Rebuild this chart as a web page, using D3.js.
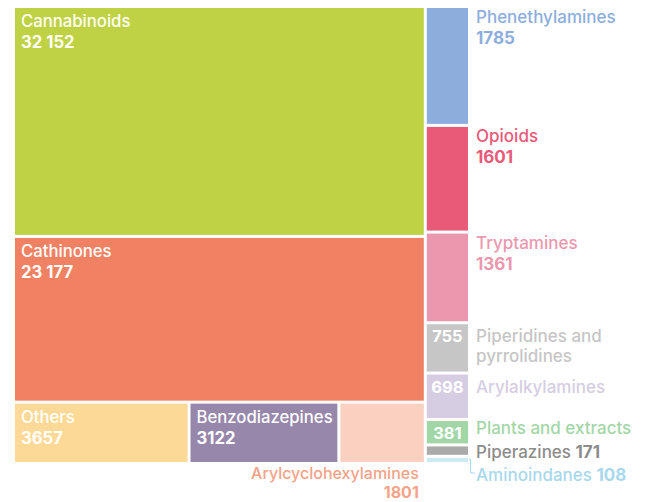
<!DOCTYPE html>
<html>
<head>
  <meta charset="utf-8">
  <title>New psychoactive substances treemap</title>
  <script src="https://cdn.jsdelivr.net/npm/d3@7"></script>
  <style>
    html, body { margin: 0; padding: 0; background: #fff; }
    svg { display: block; font-family: Inter, "Noto Sans", sans-serif; }
  </style>
</head>
<body>
  <svg id="chart" width="647" height="502"></svg>
  <script>
    // big blocks on the left, top to bottom
    const mainCategories = ['Cannabinoids', 'Cathinones']
    const mainValues = [32152, 23177]
    // bottom row under Cathinones, left to right
    const rowCategories = ['Others', 'Benzodiazepines', 'Arylcyclohexylamines']
    const rowValues = [3657, 3122, 1801]
    // narrow column on the right, top to bottom
    const sideCategories = ['Phenethylamines', 'Opioids', 'Tryptamines', 'Piperidines and pyrrolidines',
      'Arylalkylamines', 'Plants and extracts', 'Piperazines', 'Aminoindanes']
    const sideValues = [1785, 1601, 1361, 755, 698, 381, 171, 108]

    const allCategories = [...mainCategories, ...rowCategories, ...sideCategories]
    const fillColor = d3.scaleOrdinal(allCategories, [
      '#bfd244', '#f08263',
      '#fcd996', '#9787ab', '#fad0c0',
      '#8daedc', '#e95a78', '#eb98ae', '#c6c6c6', '#d6cde3', '#a3d6a6', '#aaaaaa', '#cde9f4'
    ])
    const textColor = d3.scaleOrdinal(allCategories, [
      '#fff', '#fff',
      '#fff', '#fff', '#f5a287',
      '#8daedc', '#e95a78', '#eb98ae', '#c6c6c6', '#d6cde3', '#a3d6a6', '#8c8c8c', '#a8d8ec'
    ])

    const fmt = v => v >= 10000 ? d3.format(',')(v).replace(',', ' ') : String(v)

    const leaf = (name, value) => ({ name, value })
    const data = {
      name: 'root',
      children: [
        {
          name: 'main',
          children: [
            ...mainCategories.map((c, i) => leaf(c, mainValues[i])),
            { name: 'row', children: rowCategories.map((c, i) => leaf(c, rowValues[i])) }
          ]
        },
        { name: 'side', children: sideCategories.map((c, i) => leaf(c, sideValues[i])) }
      ]
    }

    const margin = { left: 15, top: 8 }
    const width = 453
    const height = 454

    const root = d3.hierarchy(data).sum(d => d.value || 0)
    d3.treemap()
      .tile(d3.treemapSliceDice)
      .size([width, height])
      .paddingInner(3)(root)

    const svg = d3.select('#chart')
    const g = svg.append('g').attr('transform', `translate(${margin.left},${margin.top})`)

    const leaves = root.leaves()

    g.selectAll('rect')
      .data(leaves)
      .join('rect')
      .attr('x', d => d.x0)
      .attr('y', d => d.y0)
      .attr('width', d => d.x1 - d.x0)
      .attr('height', d => d.y1 - d.y0)
      .attr('fill', d => fillColor(d.data.name))

    const inside = new Set(['Cannabinoids', 'Cathinones', 'Others', 'Benzodiazepines'])
    const stacked = new Set(['Phenethylamines', 'Opioids', 'Tryptamines'])
    const numberInside = new Set(['Piperidines and pyrrolidines', 'Arylalkylamines', 'Plants and extracts'])
    const inline = new Set(['Piperazines', 'Aminoindanes'])

    const sideSize = 17
    const labels = g.append('g')

    leaves.forEach(d => {
      const name = d.data.name
      const val = fmt(d.data.value)
      const col = textColor(name)

      if (inside.has(name)) {
        labels.append('text').attr('x', d.x0 + 6).attr('y', d.y0 + 19)
          .attr('fill', col).attr('font-size', 16.7).attr('font-weight', 500).text(name)
        labels.append('text').attr('x', d.x0 + 6).attr('y', d.y0 + 40)
          .attr('fill', col).attr('font-size', 16.7).attr('font-weight', 700).text(val)
      } else if (name === 'Arylcyclohexylamines') {
        // tight two-line label under its block, kept inside the page
        labels.append('text').attr('x', d.x1 - 5).attr('y', d.y1 + 16.5)
          .attr('text-anchor', 'end')
          .attr('fill', col).attr('font-size', 16).attr('font-weight', 500).text(name)
        labels.append('text').attr('x', d.x1 - 5).attr('y', d.y1 + 36)
          .attr('text-anchor', 'end')
          .attr('fill', col).attr('font-size', 16).attr('font-weight', 700).text(val)
      } else if (stacked.has(name)) {
        labels.append('text').attr('x', d.x1 + 8).attr('y', d.y0 + 15)
          .attr('fill', col).attr('font-size', sideSize).attr('font-weight', 500).text(name)
        labels.append('text').attr('x', d.x1 + 8).attr('y', d.y0 + 36)
          .attr('fill', col).attr('font-size', sideSize).attr('font-weight', 700).text(val)
      } else if (numberInside.has(name)) {
        const ny = Math.min(d.y0 + 18, d.y1 - 3)
        labels.append('text').attr('x', (d.x0 + d.x1) / 2).attr('y', ny)
          .attr('text-anchor', 'middle')
          .attr('fill', '#fff').attr('font-size', 16.5).attr('font-weight', 700).text(val)
        const nameY = name === 'Plants and extracts' ? ny - 5.5 : ny
        const lines = name === 'Piperidines and pyrrolidines' ? ['Piperidines and', 'pyrrolidines'] : [name]
        lines.forEach((line, i) => {
          labels.append('text').attr('x', d.x1 + 8).attr('y', nameY + i * 20)
            .attr('fill', col).attr('font-size', sideSize).attr('font-weight', 500).text(line)
        })
      } else if (inline.has(name)) {
        const ty = name === 'Piperazines' ? d.y1 + 3 : d.y1 + 19
        const t = labels.append('text').attr('x', d.x1 + 8).attr('y', ty)
          .attr('fill', col).attr('font-size', sideSize)
        t.append('tspan').attr('font-weight', 500).text(name + ' ')
        t.append('tspan').attr('font-weight', 700).text(val)
        if (name === 'Aminoindanes') {
          labels.append('path')
            .attr('d', `M${d.x1 + 1},${d.y0 + 1.5}H${d.x1 + 2.5}V${d.y1 + 11}H${d.x1 + 7}`)
            .attr('fill', 'none').attr('stroke', col).attr('stroke-width', 1)
        }
      }
    })
  </script>
</body>
</html>
